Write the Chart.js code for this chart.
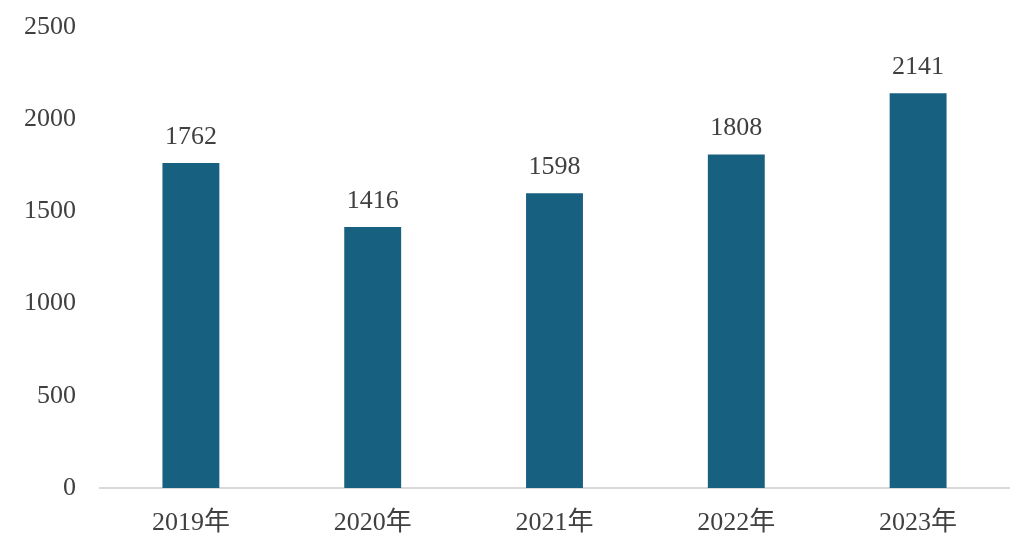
<!DOCTYPE html>
<html><head><meta charset="utf-8">
<script src="https://cdn.jsdelivr.net/npm/chart.js@4/dist/chart.umd.min.js"></script>
<style>html,body{margin:0;padding:0;background:#fff;}#wrap{width:1026px;height:546px;}</style>
</head><body><div id="wrap"><canvas id="c" width="1026" height="546"></canvas></div>
<script>
const categories = ["2019年","2020年","2021年","2022年","2023年"];
const values = [1762, 1416, 1598, 1808, 2141];
const yTicks = [0, 500, 1000, 1500, 2000, 2500];

const FONT = "'Liberation Serif','Times New Roman','Noto Sans CJK SC',serif";

const labelPlugin = {
  id: 'barLabels',
  afterDatasetsDraw(chart) {
    const ctx = chart.ctx;
    const meta = chart.getDatasetMeta(0);
    ctx.save();
    ctx.font = "26px " + FONT;
    ctx.fillStyle = "#404040";
    ctx.textAlign = "center";
    ctx.textBaseline = "middle";
    meta.data.forEach((bar, i) => {
      ctx.fillText(String(values[i]), bar.x, bar.y - 26);
    });
    ctx.restore();
  }
};

new Chart(document.getElementById('c'), {
  type: 'bar',
  data: {
    labels: categories,
    datasets: [{ data: values, backgroundColor: '#186080', categoryPercentage: 1, barPercentage: 0.313 }]
  },
  options: {
    responsive: false,
    animation: false,
    devicePixelRatio: 1,
    layout: { padding: { top: 27, right: 17, left: 0, bottom: 0 } },
    plugins: { legend: { display: false }, tooltip: { enabled: false } },
    scales: {
      x: {
        grid: { display: false, drawTicks: false },
        border: { display: true, color: '#d9d9d9', width: 2 },
        ticks: { color: '#404040', font: { family: FONT, size: 26 }, padding: 20 },
        afterFit(s) { s.height = 58; s.paddingLeft = 0; s.paddingRight = 0; }
      },
      y: {
        min: 0, max: 2500,
        afterBuildTicks(s) { s.ticks = yTicks.map(v => ({ value: v })); },
        grid: { display: false, drawTicks: false },
        border: { display: false },
        ticks: { color: '#404040', font: { family: FONT, size: 26 }, padding: 24, callback: v => String(v) },
        afterFit(s) { s.width = 100; s.paddingTop = 0; s.paddingBottom = 0; }
      }
    }
  },
  plugins: [labelPlugin]
});
</script></body></html>
